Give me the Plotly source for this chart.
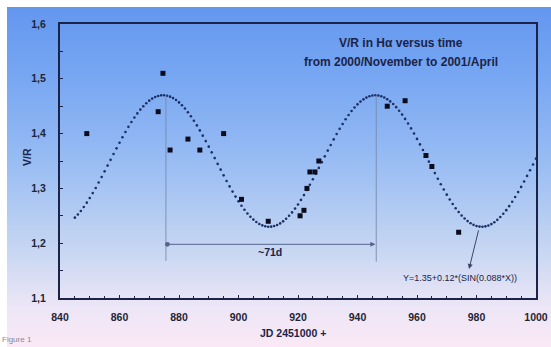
import numpy as np
import plotly.graph_objects as go

# ---- data ----
obs_jd = [849, 873, 874.6, 877, 883, 887, 895, 901, 910, 920.7, 922, 923, 924, 925.7, 927, 950, 956, 963, 965, 974]
obs_vr = [1.40, 1.44, 1.51, 1.37, 1.39, 1.37, 1.40, 1.28, 1.24, 1.25, 1.26, 1.30, 1.33, 1.33, 1.35, 1.45, 1.46, 1.36, 1.34, 1.22]

# fit shown on the chart: Y = 1.35 + 0.12*SIN(0.088*X)
fit_offset = 1.35
fit_amp = 0.12
fit_freq = 0.088
fit_x = np.arange(845, 1001, 1.0)
fit_y = fit_offset + fit_amp * np.sin(fit_freq * fit_x)

x_ticks = [840, 860, 880, 900, 920, 940, 960, 980, 1000]
y_ticks = [1.1, 1.2, 1.3, 1.4, 1.5, 1.6]

W, H = 551, 347
def px(x):
    return x / W
def py(y):
    return 1 - y / H

navy = "#1b2448"
font = "Arial"

# background gradient
nrows = 60
zbg = [[i / (nrows - 1)] * 2 for i in range(nrows)]
bg_scale = [[0.0, "#fbe8f6"], [0.12, "#ece6f6"], [0.3, "#c4d5f2"],
            [0.55, "#98bcf3"], [0.8, "#77a6f2"], [1.0, "#6397ef"]]

fig = go.Figure()
fig.add_trace(go.Heatmap(z=zbg, x=[0, 1], y=list(range(nrows)), colorscale=bg_scale,
                         showscale=False, zsmooth="best", hoverinfo="skip",
                         xaxis="x", yaxis="y"))

fig.add_trace(go.Scatter(x=fit_x, y=fit_y, mode="markers",
                         marker=dict(symbol="circle", size=2.6, color="#1c2f66"),
                         xaxis="x2", yaxis="y2", showlegend=False))
fig.add_trace(go.Scatter(x=obs_jd, y=obs_vr, mode="markers",
                         marker=dict(symbol="square", size=5, color="#0b0b1e"),
                         xaxis="x2", yaxis="y2", showlegend=False))

line_col = "rgba(120,135,170,0.85)"
shapes = [
    dict(type="line", xref="x2", yref="y2", x0=875.6, x1=875.6, y0=1.47, y1=1.168,
         line=dict(color=line_col, width=1)),
    dict(type="line", xref="x2", yref="y2", x0=946.3, x1=946.3, y0=1.47, y1=1.166,
         line=dict(color=line_col, width=1)),
]

annotations = [
    # period arrow
    dict(x=946.0, y=1.198, ax=875.6, ay=1.198, xref="x2", yref="y2", axref="x2", ayref="y2",
         text="", showarrow=True, arrowside="end+start", arrowhead=2, startarrowhead=6,
         arrowsize=1, startarrowsize=1.2, arrowwidth=1, arrowcolor="#56638c"),
    dict(x=910.6, y=1.184, xref="x2", yref="y2", text="<b>~71d</b>", showarrow=False,
         xanchor="center", yanchor="middle", font=dict(family=font, size=10.5, color=navy)),
    # fit arrow
    dict(x=977.5, y=1.153, ax=980.8, ay=1.226, xref="x2", yref="y2", axref="x2", ayref="y2",
         text="", showarrow=True, arrowhead=2, arrowsize=1, arrowwidth=1, arrowcolor="#3b4468"),
    dict(x=px(460), y=py(278), xref="paper", yref="paper", xanchor="center", yanchor="middle",
         text="Y=1.35+0.12*(SIN(0.088*X))", showarrow=False,
         font=dict(family=font, size=9, color=navy)),
    # title
    dict(x=px(401), y=py(43), xref="paper", yref="paper", xanchor="center", yanchor="middle",
         text="<b>V/R in H\u03b1 versus time</b>", showarrow=False,
         font=dict(family=font, size=12, color=navy)),
    dict(x=px(401), y=py(62), xref="paper", yref="paper", xanchor="center", yanchor="middle",
         text="<b>from 2000/November to 2001/April</b>", showarrow=False,
         font=dict(family=font, size=12, color=navy)),
    # axis titles
    dict(x=px(27), y=py(157), xref="paper", yref="paper", text="<b>V/R</b>",
         xanchor="center", yanchor="middle",
         textangle=-90, showarrow=False, font=dict(family=font, size=10.5, color=navy)),
    dict(x=px(293), y=py(333), xref="paper", yref="paper", text="<b>JD 2451000 +</b>",
         xanchor="center", yanchor="middle", showarrow=False,
         font=dict(family=font, size=10.5, color=navy)),
    dict(x=0, y=py(346), xref="paper", yref="paper", text="Figure 1",
         xanchor="left", yanchor="bottom", showarrow=False,
         font=dict(family=font, size=8, color="#8a8a8a")),
]

fig.update_layout(
    width=W, height=H, margin=dict(l=0, r=0, t=0, b=0, pad=0, autoexpand=False),
    paper_bgcolor="white", plot_bgcolor="rgba(0,0,0,0)",
    separators=",.",
    showlegend=False,
    shapes=shapes, annotations=annotations,
    xaxis=dict(domain=[px(7), 1], range=[0, 1], visible=False, fixedrange=True),
    yaxis=dict(domain=[0, py(7)], range=[0, nrows - 1], visible=False, fixedrange=True),
    xaxis2=dict(domain=[px(60), px(536)], range=[840, 1000], anchor="y2",
                tickvals=x_ticks, tickformat="d", ticks="inside", ticklen=3, tickwidth=1,
                tickcolor=navy, minor=dict(dtick=5, ticks="inside", ticklen=2, tickcolor=navy),
                ticklabelstandoff=8, automargin=False,
                showgrid=False, zeroline=False, showline=True, linecolor=navy, linewidth=2,
                mirror=True, tickfont=dict(family=font, size=10.5, color="#1f2535", weight="bold")),
    yaxis2=dict(domain=[py(298), py(24)], range=[1.1, 1.6], anchor="x2",
                tickvals=y_ticks, tickformat=".1f", ticks="inside", ticklen=3, tickwidth=1,
                tickcolor=navy, minor=dict(dtick=0.05, ticks="inside", ticklen=3, tickcolor=navy),
                ticklabelstandoff=10, automargin=False,
                showgrid=False, zeroline=False, showline=True, linecolor=navy, linewidth=2,
                mirror=True, tickfont=dict(family=font, size=10.5, color="#1f2535", weight="bold")),
)

fig.write_html("out.html",
               post_script="document.body.style.margin='0';document.body.style.overflow='hidden';")
